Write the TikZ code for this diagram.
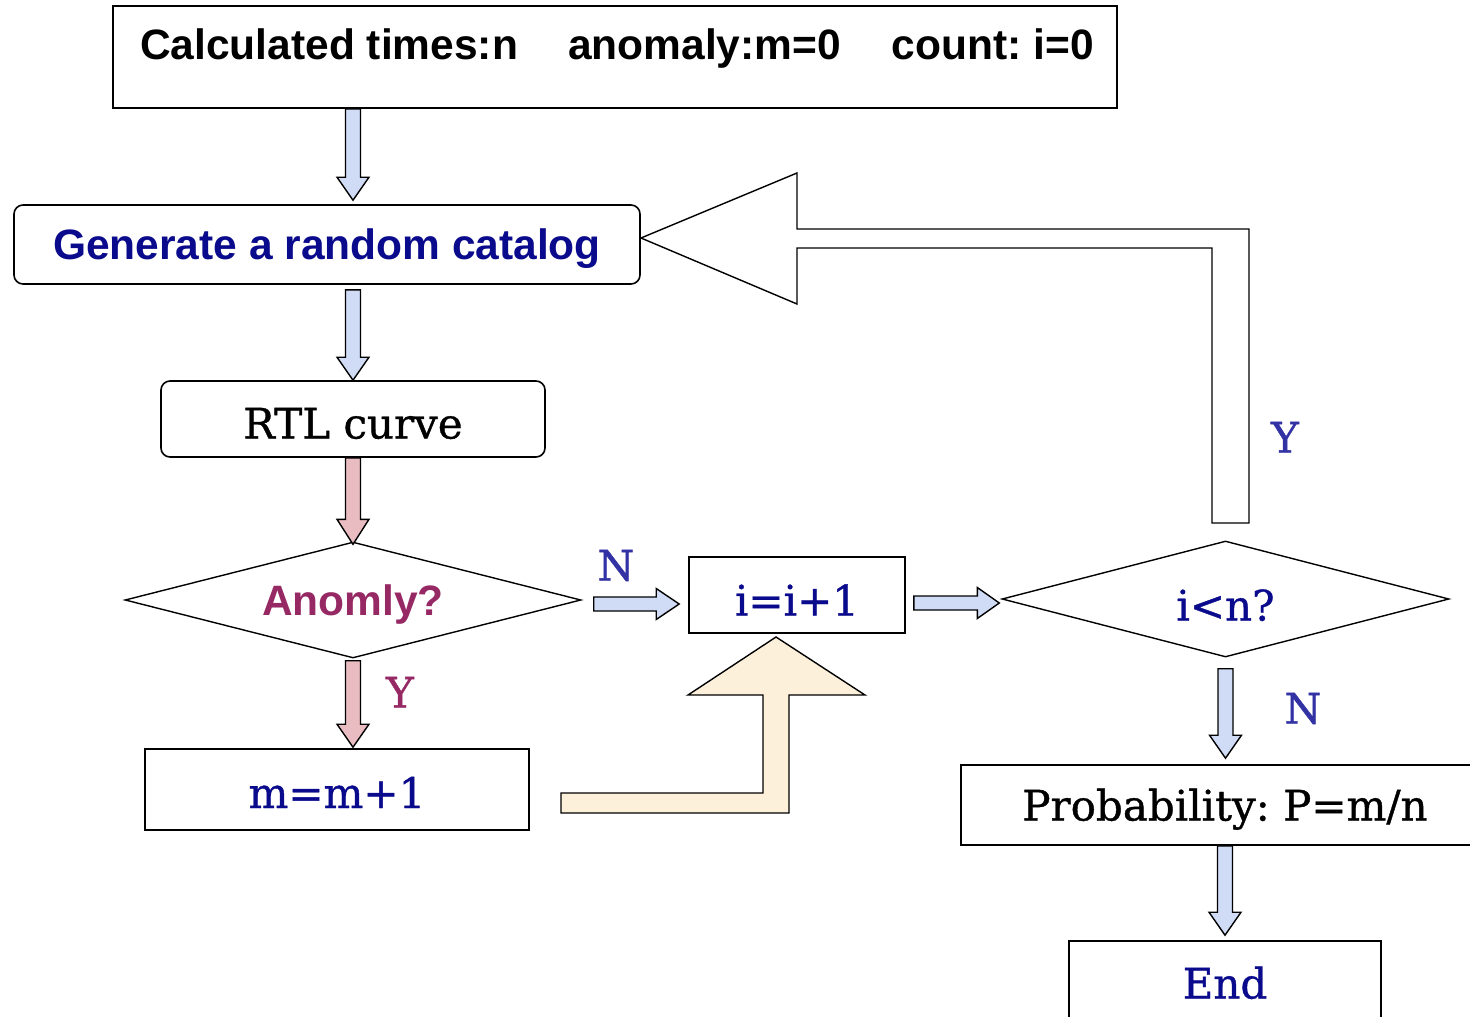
\documentclass[tikz,border=0pt]{standalone}
\usepackage{fontspec}
\setmainfont{DejaVu Serif}[FakeBold=0.9]
\setsansfont{Liberation Sans}
\usetikzlibrary{shapes.geometric,calc}
\frenchspacing
\definecolor{navy}{RGB}{10,10,140}
\definecolor{lblue}{RGB}{50,50,165}
\definecolor{maroon}{RGB}{150,40,100}
\definecolor{ablue}{RGB}{208,220,245}
\definecolor{apink}{RGB}{232,188,192}
\definecolor{abeige}{RGB}{252,240,218}
\tikzset{
  box/.style={draw, line width=1.6pt, inner sep=0pt},
  rbox/.style={box, rounded corners=9pt},
  sansb/.style={font=\sffamily\bfseries\fontsize{42.5}{50}\selectfont, text height=30.5pt, text depth=0pt, inner sep=0pt},
  serif/.style={font=\fontsize{42}{50}\selectfont, text height=31pt, text depth=0pt, inner sep=0pt},
  dia/.style={diamond, draw, line width=1.4pt, inner sep=0pt},
  blk/.style={draw, line width=1.4pt, line join=miter}
}
\newcommand\blkdown[4]{%
  \draw[blk, fill=#4] let \p1=#1, \p2=#2 in
   (\x1-7.5pt,\y1) -- (\x1+7.5pt,\y1) -- (\x1+7.5pt,\y2+#3) -- (\x1+16pt,\y2+#3) -- (\x1,\y2)
   -- (\x1-16pt,\y2+#3) -- (\x1-7.5pt,\y2+#3) -- cycle;}
\newcommand\blkright[4]{%
  \draw[blk, fill=#4] let \p1=#1, \p2=#2 in
   (\x1,\y1+7pt) -- (\x2-#3,\y1+7pt) -- (\x2-#3,\y1+15.5pt) -- (\x2,\y1)
   -- (\x2-#3,\y1-15.5pt) -- (\x2-#3,\y1-7pt) -- (\x1,\y1-7pt) -- cycle;}
\begin{document}
\begin{tikzpicture}[x=1pt,y=-1pt]
\useasboundingbox (0,0) rectangle (1470,1017);
\clip (0,0) rectangle (1470,1017);
% boxes
\node[box, minimum width=1004pt, minimum height=102pt] (top) at (615,57) {};
\node[sansb, anchor=west] (toptext) at (140,44.5) {Calculated times:n\hspace{50pt}anomaly:m=0\hspace{51pt}count: i=0};
\node[rbox, sansb, text=navy, minimum width=626pt, minimum height=79pt] (gen) at (327,244.5) {Generate a random catalog};
\node[rbox, serif, text height=39pt, minimum width=384pt, minimum height=76pt] (rtl) at (353,419) {RTL curve};
\node[dia, sansb, text=maroon, aspect=3.93, minimum width=456pt, minimum height=116pt] (anom) at (353,600) {Anomly?};
\node[box, serif, text=navy, text height=37pt, minimum width=384pt, minimum height=81pt] (mm) at (337,789.5) {m=m+1};
\node[box, serif, text=navy, text height=41pt, minimum width=216pt, minimum height=76pt] (inc) at (797,595) {i=i+1};
\node[dia, serif, text=navy, text height=43pt, aspect=3.85, minimum width=447pt, minimum height=116pt] (test) at (1225.5,599) {i<n?};
\node[box, serif, minimum width=528pt, minimum height=80pt] (prob) at (1225,805) {Probability: P=m/n};
\node[box, serif, text=navy, minimum width=312pt, minimum height=84pt] (end) at (1225,983) {End};
% labels
\node[serif, text=lblue] (lN1) at (616,565) {N};
\node[serif, text=lblue] (lY1) at (1285,437) {Y};
\node[serif, text=lblue] (lN2) at (1303,708) {N};
\node[serif, text=maroon] (lY2) at (400,692) {Y};
% block arrows
\blkdown{(top.south -| rtl.north)}{([yshift=4pt]gen.north -| rtl.north)}{23pt}{ablue}
\blkdown{([yshift=-5pt]gen.south -| rtl.north)}{(rtl.north)}{23pt}{ablue}
\blkdown{(rtl.south)}{([yshift=-3pt]anom.north)}{25pt}{apink}
\blkdown{([yshift=-2pt]anom.south)}{([yshift=1pt]mm.north -| anom.south)}{23pt}{apink}
\blkright{([xshift=12pt,yshift=-4pt]anom.east)}{([xshift=-9pt]inc.west)}{23pt}{ablue}
\blkright{([xshift=8pt,yshift=-8pt]inc.east)}{([xshift=-2pt]test.west)}{22pt}{ablue}
\blkdown{([yshift=-11pt]test.south)}{([yshift=6pt]prob.north)}{23pt}{ablue}
\blkdown{(prob.south)}{([yshift=5pt]end.north)}{23pt}{ablue}
% feedback arrow (Y loop)
\draw[blk, fill=white] (1212,523) -- (1212,248) -- (797,248) -- (797,304) -- (641,238)
  -- (797,173) -- (797,229) -- (1249,229) -- (1249,523) -- cycle;
% beige arrow from m=m+1 to i=i+1
\draw[blk, fill=abeige] (561,793) -- (763,793) -- (763,695) -- (688,695) -- (776,637)
  -- (865,695) -- (789,695) -- (789,813) -- (561,813) -- cycle;
\end{tikzpicture}
\end{document}
